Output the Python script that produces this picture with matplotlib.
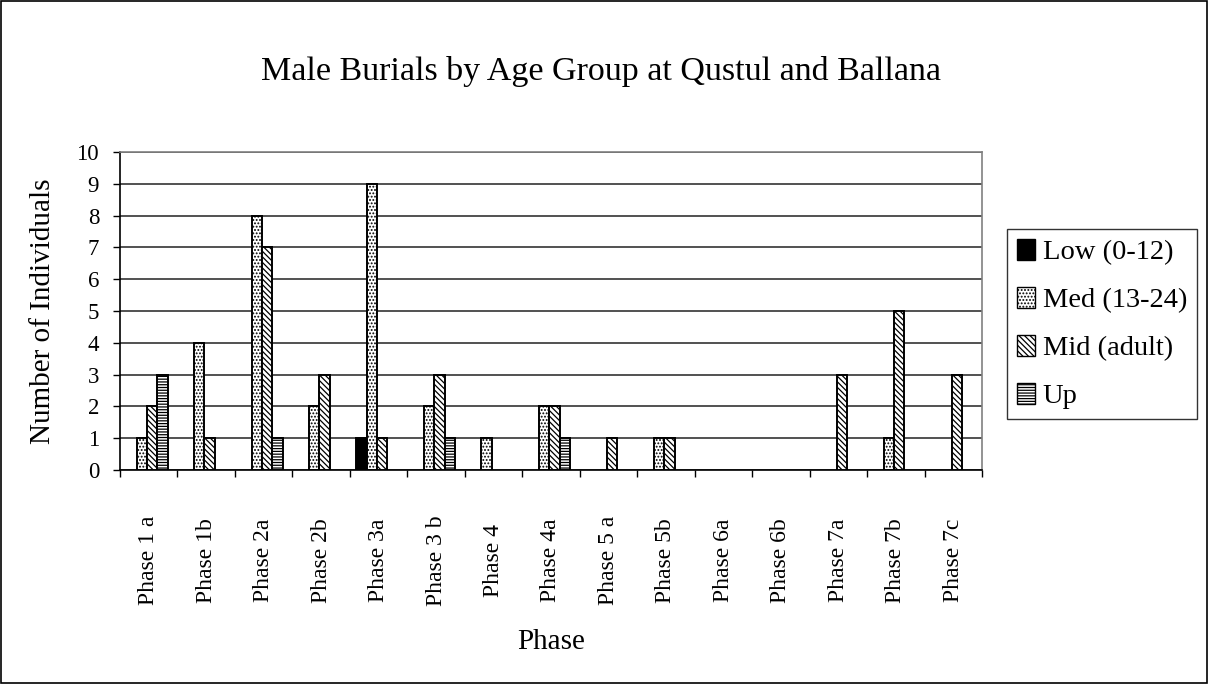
import numpy as np
import matplotlib.pyplot as plt
import matplotlib.patches as mpatches

phases = ["Phase 1 a", "Phase 1b", "Phase 2a", "Phase 2b", "Phase 3a", "Phase 3 b",
          "Phase 4", "Phase 4a", "Phase 5 a", "Phase 5b", "Phase 6a", "Phase 6b",
          "Phase 7a", "Phase 7b", "Phase 7c"]
low = [0, 0, 0, 0, 1, 0, 0, 0, 0, 0, 0, 0, 0, 0, 0]
med = [1, 4, 8, 2, 9, 2, 1, 2, 0, 1, 0, 0, 0, 1, 0]
mid = [2, 1, 7, 3, 1, 3, 0, 2, 1, 1, 0, 0, 3, 5, 3]
up = [3, 0, 1, 0, 0, 1, 0, 1, 0, 0, 0, 0, 0, 0, 0]
series_names = ["Low (0-12)", "Med (13-24)", "Mid (adult)", "Up"]

plt.rcParams["font.family"] = ["Liberation Serif", "DejaVu Serif"]
plt.rcParams["hatch.linewidth"] = 0.9

fig = plt.figure(figsize=(12.09, 6.84), dpi=100)
fig.patches.append(mpatches.Rectangle((0.001, 0.001), 0.997, 0.997, transform=fig.transFigure,
                                      fill=False, edgecolor="black", linewidth=1.2))

ax = fig.add_axes([120 / 1209, 1 - 470 / 684, 862 / 1209, 318 / 684])

x = np.arange(len(phases))
w = 0.18
styles = [
    dict(color="black", hatch=None),
    dict(color="white", hatch="....."),
    dict(color="white", hatch="\\\\\\\\\\\\"),
    dict(color="white", hatch="------"),
]
handles = []
for i, vals in enumerate([low, med, mid, up]):
    pos = x - 1.5 * w + i * w - 0.03
    vals = np.array(vals, dtype=float)
    bars = ax.bar(pos, vals, w, facecolor=styles[i]["color"], edgecolor="black",
                  hatch=styles[i]["hatch"], linewidth=1.4, zorder=3)
    for b, v in zip(bars, vals):
        if v == 0:
            b.set_visible(False)
    handles.append(mpatches.Patch(facecolor=styles[i]["color"], edgecolor="black",
                                  hatch=styles[i]["hatch"], linewidth=1.0))

ax.set_xlim(-0.5, len(phases) - 0.5)
ax.set_ylim(0, 10)
ax.set_yticks(range(0, 11))
ax.yaxis.grid(True, color="#333333", linewidth=1.2, zorder=0)
ax.set_axisbelow(True)

ax.set_xticks(x)
ax.set_xticklabels(phases, rotation=90, fontsize=17)
for lab in ax.get_xticklabels():
    lab.set_va("center")
ax.set_xticks(np.arange(-0.5, len(phases)), minor=True)
ax.tick_params(axis="x", which="major", length=0, pad=65)
ax.tick_params(axis="x", which="minor", length=5, width=1, direction="out")
ax.tick_params(axis="y", labelsize=16.5, length=5, width=1, direction="out", pad=10)

for s in ["top", "right"]:
    ax.spines[s].set_color("#808080")
    ax.spines[s].set_linewidth(1.2)
ax.spines["left"].set_linewidth(1.2)
ax.spines["bottom"].set_linewidth(1.2)

ax.set_ylabel("Number of Individuals", fontsize=21)
ax.yaxis.set_label_coords((43 - 120) / 862, 0.5)
ax.yaxis.label.set_va("center")
ax.set_xlabel("Phase", fontsize=21)
ax.xaxis.set_label_coords(0.5, (470 - 642) / 318)
ax.xaxis.label.set_va("center")
fig.text(0.5 * (259 + 943) / 1209, 1 - 80 / 684, "Male Burials by Age Group at Qustul and Ballana",
         ha="center", va="baseline", fontsize=24.5)

leg = fig.legend(handles, series_names, loc="upper left",
                 bbox_to_anchor=(1007 / 1209, 1 - 229 / 684), fontsize=20.5,
                 frameon=True, fancybox=False, edgecolor="black", handlelength=0.65,
                 handleheight=0.75, handletextpad=0.25, labelspacing=0.76, borderpad=0.35,
                 borderaxespad=0)
leg.get_frame().set_linewidth(1.0)

fig.savefig("out.png", dpi=100)
